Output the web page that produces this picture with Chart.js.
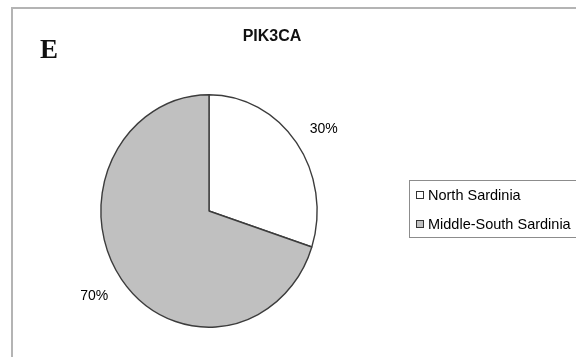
<!DOCTYPE html>
<html>
<head>
<meta charset="utf-8">
<title>PIK3CA</title>
<script src="https://cdn.jsdelivr.net/npm/chart.js"></script>
<style>
  html, body { margin: 0; padding: 0; background: #fff; }
  #pie { display: block; }
</style>
</head>
<body>
<canvas id="pie" width="576" height="357"></canvas>
<script>
// Valores del gráfico
const regions = ['North Sardinia', 'Middle-South Sardinia'];
const percents = [30, 70];
const sliceColors = ['#ffffff', '#c0c0c0'];

const panelLetter = 'E';
const chartTitle = 'PIK3CA';

// Marco, letra del panel y título
const framePlugin = {
  id: 'frame',
  beforeDraw(chart) {
    const ctx = chart.ctx;
    ctx.save();
    ctx.fillStyle = '#fff';
    ctx.fillRect(0, 0, chart.width, chart.height);
    ctx.strokeStyle = '#b4b4b4';
    ctx.lineWidth = 2;
    ctx.beginPath();
    ctx.moveTo(12, chart.height);
    ctx.lineTo(12, 8);
    ctx.lineTo(chart.width, 8);
    ctx.stroke();

    ctx.fillStyle = '#111';
    ctx.font = 'bold 27px "Liberation Serif", "Times New Roman", serif';
    ctx.textBaseline = 'alphabetic';
    ctx.textAlign = 'left';
    ctx.fillText(panelLetter, 40, 58);

    ctx.font = 'bold 16px "Liberation Sans", Arial, sans-serif';
    ctx.textAlign = 'center';
    ctx.fillText(chartTitle, 272, 41);
    ctx.restore();
  }
};

// La tarta original está un poco achatada en horizontal
const squeeze = 0.93;
const ellipsePlugin = {
  id: 'ellipse',
  beforeDatasetsDraw(chart) {
    const arc = chart.getDatasetMeta(0).data[0];
    const ctx = chart.ctx;
    ctx.save();
    ctx.translate(arc.x, arc.y);
    ctx.scale(squeeze, 1);
    ctx.translate(-arc.x, -arc.y);
  },
  afterDatasetsDraw(chart) {
    chart.ctx.restore();
  }
};

// Porcentajes fuera de cada porción
const percentLabels = {
  id: 'percentLabels',
  afterDraw(chart) {
    const ctx = chart.ctx;
    const values = chart.data.datasets[0].data;
    ctx.save();
    ctx.fillStyle = '#000';
    ctx.font = '14px "Liberation Sans", Arial, sans-serif';
    ctx.textAlign = 'center';
    ctx.textBaseline = 'middle';
    chart.getDatasetMeta(0).data.forEach((arc, i) => {
      const mid = (arc.startAngle + arc.endAngle) / 2;
      const r = arc.outerRadius * 1.22;
      const x = arc.x + Math.cos(mid) * r;
      const y = arc.y + Math.sin(mid) * r;
      ctx.fillText(values[i] + '%', x, y + 2);
    });
    ctx.restore();
  }
};

// Leyenda en recuadro a la derecha
const boxLegend = {
  id: 'boxLegend',
  afterDraw(chart) {
    const ctx = chart.ctx;
    const ds = chart.data.datasets[0];
    const left = 409, top = 180, bottom = 237;
    ctx.save();
    ctx.strokeStyle = '#8c8c8c';
    ctx.lineWidth = 1;
    ctx.strokeRect(left + 0.5, top + 0.5, chart.width - left + 5, bottom - top);

    ctx.font = '14.5px "Liberation Sans", Arial, sans-serif';
    ctx.textAlign = 'left';
    ctx.textBaseline = 'middle';
    chart.data.labels.forEach((label, i) => {
      const cy = 195 + i * 29;
      ctx.fillStyle = ds.backgroundColor[i];
      ctx.fillRect(417, cy - 3, 6, 6);
      ctx.strokeStyle = '#333';
      ctx.strokeRect(416.5, cy - 3.5, 7, 7);
      ctx.fillStyle = '#000';
      ctx.fillText(label, 428, cy + 1);
    });
    ctx.restore();
  }
};

new Chart(document.getElementById('pie'), {
  type: 'pie',
  data: {
    labels: regions,
    datasets: [{
      data: percents,
      backgroundColor: sliceColors,
      borderColor: '#3c3c3c',
      borderWidth: 1.5,
      hoverOffset: 0
    }]
  },
  options: {
    responsive: false,
    animation: false,
    events: [],
    layout: { padding: { top: 94, bottom: 29, left: 92, right: 250 } },
    plugins: {
      legend: { display: false },
      title: { display: false },
      tooltip: { enabled: false }
    }
  },
  plugins: [framePlugin, ellipsePlugin, percentLabels, boxLegend]
});
</script>
</body>
</html>
